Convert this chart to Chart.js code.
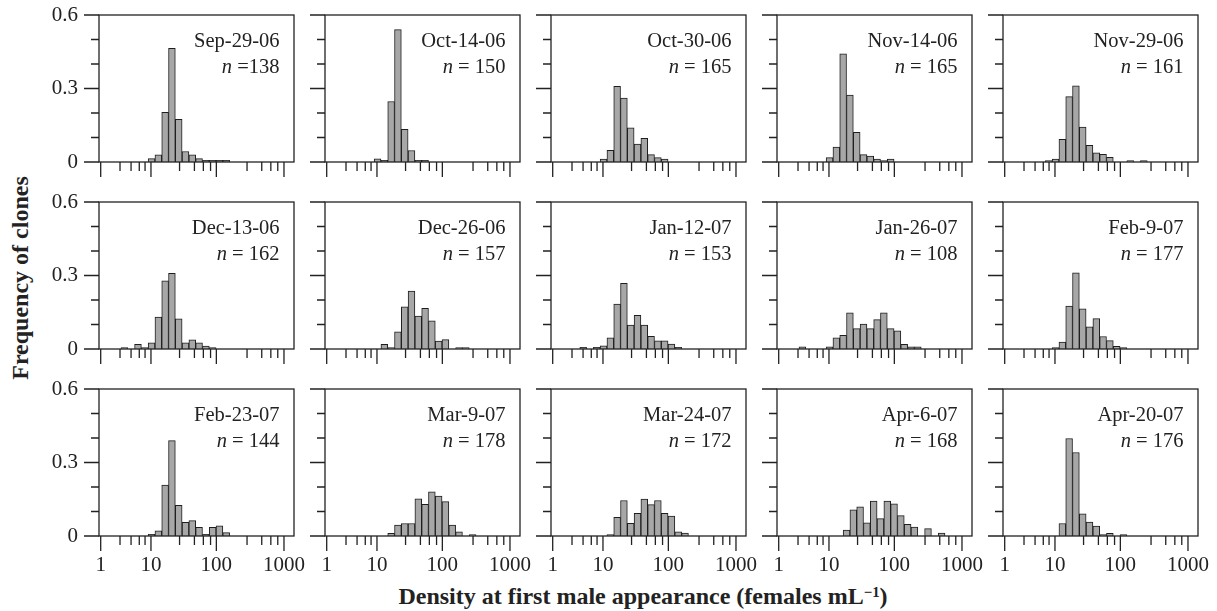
<!DOCTYPE html>
<html><head><meta charset="utf-8">
<script src="https://cdn.jsdelivr.net/npm/chart.js@4.4.1/dist/chart.umd.min.js"></script>
<style>
html,body{margin:0;padding:0;background:#fff;}
body{width:1217px;height:611px;position:relative;overflow:hidden;font-family:'Liberation Serif','Times New Roman',serif;color:#222;}
canvas.pane{position:absolute;}
.note{position:absolute;text-align:right;font-size:20.5px;line-height:26px;white-space:nowrap;}
.ytitle{position:absolute;left:19.5px;top:278px;transform:translate(-50%,-50%) rotate(-90deg);font-weight:bold;font-size:24px;line-height:24px;white-space:nowrap;}
.xtitle{position:absolute;left:643px;top:584px;transform:translateX(-50%);font-weight:bold;font-size:24px;line-height:24px;white-space:nowrap;}
.xtitle sup{font-size:0.62em;vertical-align:0.5em;line-height:0;}
</style></head>
<body>
<div class="ytitle">Frequency of clones</div>
<div class="xtitle">Density at first male appearance (females mL<sup>−1</sup>)</div>
<script>
// ---------------- data ----------------
const dates = ['Sep-29-06','Oct-14-06','Oct-30-06','Nov-14-06','Nov-29-06',
               'Dec-13-06','Dec-26-06','Jan-12-07','Jan-26-07','Feb-9-07',
               'Feb-23-07','Mar-9-07','Mar-24-07','Apr-6-07','Apr-20-07'];
const nClones = [138,150,165,165,161,162,157,153,108,177,144,178,172,168,176];
// lower edge of each panel's first bin, in log10(density + 1); bins are 0.1 wide
const binFirst = [1.0,1.0,1.0,1.0,0.9, 0.6,1.1,0.7,0.6,1.0, 1.0,1.2,1.1,1.25,1.1];
const freqSep29 = [0.014,0.029,0.203,0.464,0.174,0.043,0.029,0.014,0.007,0.007,0.007,0.007];
const freqOct14 = [0.013,0.007,0.247,0.540,0.133,0.047,0.007,0.007];
const freqOct30 = [0.012,0.048,0.309,0.261,0.139,0.073,0.097,0.030,0.018,0.012];
const freqNov14 = [0.018,0.061,0.442,0.273,0.121,0.030,0.024,0.012,0.006,0.012];
const freqNov29 = [0.006,0.012,0.093,0.267,0.311,0.143,0.068,0.037,0.031,0.019,0,0,0.006,0,0.006];
const freqDec13 = [0.006,0,0.019,0.006,0.025,0.130,0.278,0.309,0.123,0.025,0.037,0.025,0.012,0.006];
const freqDec26 = [0.019,0.006,0.070,0.172,0.236,0.134,0.166,0.115,0.032,0.038,0,0.006,0.006];
const freqJan12 = [0.007,0,0.007,0.013,0.046,0.183,0.268,0.098,0.137,0.098,0.052,0.033,0.033,0.020,0.007];
const freqJan26 = [0.009,0,0,0,0.009,0.046,0.056,0.148,0.083,0.102,0.083,0.120,0.148,0.083,0.074,0.019,0.009,0.009];
const freqFeb9  = [0.006,0.028,0.175,0.311,0.164,0.090,0.124,0.051,0.034,0.011,0.006];
const freqFeb23 = [0.007,0.021,0.208,0.389,0.125,0.056,0.063,0.035,0.007,0.035,0.042,0.014];
const freqMar9  = [0.011,0.045,0.051,0.051,0.152,0.129,0.180,0.163,0.140,0.045,0.017,0,0.006];
const freqMar24 = [0.006,0.076,0.145,0.052,0.093,0.151,0.128,0.145,0.093,0.081,0.017,0.012];
const freqApr6  = [0.024,0.107,0.119,0.054,0.143,0.071,0.143,0.131,0.083,0.048,0.036,0,0.030,0,0.012];
const freqApr20 = [0.051,0.398,0.341,0.091,0.057,0.040,0.006,0.011,0,0.006];
const panelFreqs = [freqSep29,freqOct14,freqOct30,freqNov14,freqNov29,
                    freqDec13,freqDec26,freqJan12,freqJan26,freqFeb9,
                    freqFeb23,freqMar9,freqMar24,freqApr6,freqApr20];
const binWidth = 0.1;
// axis ticks (density, females/mL) and frequency ticks
const xMajorTicks = [1, 10, 100, 1000];
const xMinorTicks = [2.85, 4.6, 6.4, 8, 28, 47, 64, 82, 285, 470, 640, 810];
const yTicks = [0, 0.1, 0.2, 0.3, 0.4, 0.5, 0.6];
const yTickLabels = ['0', '', '', '0.3', '', '', '0.6'];
const yMajor = [0, 0.3, 0.6];

// ---------------- layout ----------------
const toU = d => Math.log10(d + 1);
const colLeft = [99, 325, 551, 777, 1003];
const rowTop = [15, 202, 389];
const plotW = 195, plotH = 147;
const padL = 75, padT = 10, padR = 30, padB = 55;
const ink = '#222';

Chart.defaults.font.family = "'Liberation Serif','Times New Roman',serif";
Chart.defaults.color = ink;

const framePlugin = {
  id: 'frameTicks',
  afterDatasetsDraw(chart) {
    const {ctx, chartArea: a, scales: {x, y}} = chart;
    ctx.save();
    ctx.strokeStyle = ink;
    ctx.lineWidth = 1.3;
    ctx.strokeRect(a.left, a.top, a.right - a.left, a.bottom - a.top);
    ctx.beginPath();
    yTicks.forEach(v => {
      const py = y.getPixelForValue(v);
      const len = yMajor.includes(v) ? 15 : 8;
      ctx.moveTo(a.left, py); ctx.lineTo(a.left - len, py);
    });
    xMajorTicks.forEach(d => {
      const px = x.getPixelForValue(toU(d));
      ctx.moveTo(px, a.bottom); ctx.lineTo(px, a.bottom + 15);
    });
    xMinorTicks.forEach(d => {
      const px = x.getPixelForValue(toU(d));
      ctx.moveTo(px, a.bottom); ctx.lineTo(px, a.bottom + 9);
    });
    ctx.stroke();
    ctx.restore();
  }
};

panelFreqs.forEach((vals, i) => {
  const r = Math.floor(i / 5), c = i % 5;
  const cv = document.createElement('canvas');
  cv.className = 'pane';
  cv.width = padL + plotW + padR;
  cv.height = padT + plotH + padB;
  cv.style.left = (colLeft[c] - padL) + 'px';
  cv.style.top = (rowTop[r] - padT) + 'px';
  document.body.appendChild(cv);

  const pts = [];
  vals.forEach((v, k) => {
    if (v > 0) pts.push({x: binFirst[i] + binWidth * k + binWidth / 2, y: v});
  });

  new Chart(cv, {
    type: 'bar',
    data: {datasets: [{
      data: pts,
      backgroundColor: '#a7a7a7',
      borderColor: '#1e1e1e',
      borderWidth: 1,
      borderSkipped: 'start',
      barPercentage: 1,
      categoryPercentage: 1
    }]},
    options: {
      responsive: false,
      animation: false,
      devicePixelRatio: 1,
      layout: {padding: {left: 0, top: padT, right: padR, bottom: 0}},
      plugins: {legend: {display: false}, tooltip: {enabled: false}},
      scales: {
        x: {
          type: 'linear', position: 'bottom', offset: false,
          min: toU(0.888), max: toU(1405),
          grid: {display: false, drawTicks: true, tickLength: 15, offset: false},
          border: {display: false},
          afterBuildTicks: s => { s.ticks = xMajorTicks.map(d => ({value: toU(d)})); },
          afterFit: s => { s.height = padB; s.paddingLeft = 0; s.paddingRight = 0; },
          ticks: {
            autoSkip: false, maxRotation: 0, minRotation: 0, padding: 2,
            font: {size: 21}, color: ink,
            callback: (v, idx) => r === 2 ? String(xMajorTicks[idx]) : ''
          }
        },
        y: {
          min: 0, max: 0.6,
          grid: {display: false, drawTicks: true, tickLength: 15},
          border: {display: false},
          afterBuildTicks: s => { s.ticks = yTicks.map(v => ({value: v})); },
          afterFit: s => { s.width = padL; s.paddingTop = 0; s.paddingBottom = 0; },
          ticks: {
            autoSkip: false, padding: 6, font: {size: 21}, color: ink,
            callback: (v, idx) => c === 0 ? yTickLabels[idx] : ''
          }
        }
      }
    },
    plugins: [framePlugin]
  });

  const note = document.createElement('div');
  note.className = 'note';
  note.style.right = (1217 - (colLeft[c] + plotW - 14.5)) + 'px';
  note.style.top = (rowTop[r] + 12) + 'px';
  const eq = i === 0 ? ' =' : ' = ';
  note.innerHTML = dates[i] + '<br><i>n</i>' + eq + nClones[i];
  document.body.appendChild(note);
});
</script>
</body></html>
